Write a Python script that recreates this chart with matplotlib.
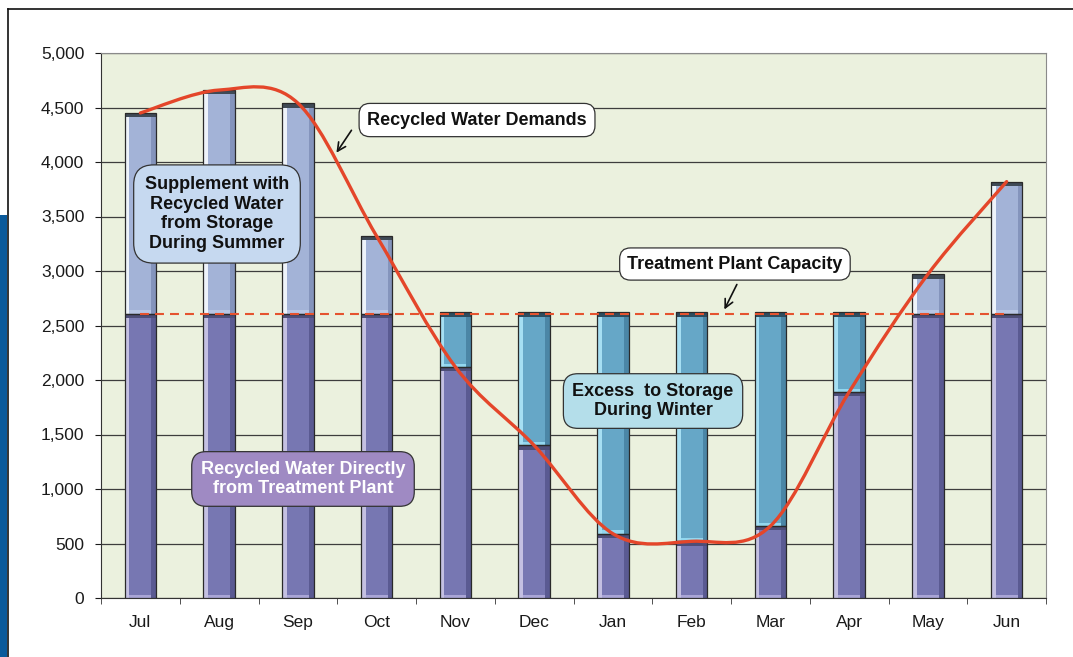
import matplotlib.pyplot as plt
import numpy as np
from matplotlib.path import Path
from matplotlib.patches import PathPatch, Rectangle
from matplotlib.lines import Line2D

months = ["Jul", "Aug", "Sep", "Oct", "Nov", "Dec",
          "Jan", "Feb", "Mar", "Apr", "May", "Jun"]

# water delivered straight from the plant (purple)
direct = [2610, 2610, 2610, 2610, 2120, 1400, 590, 520, 660, 1890, 2610, 2610]
# drawn back from storage in summer (light blue)
from_storage = [1840, 2050, 1930, 710, 0, 0, 0, 0, 0, 0, 360, 1210]
# surplus sent to storage in winter (teal)
to_storage = [0, 0, 0, 0, 500, 1220, 2030, 2100, 1960, 730, 0, 0]

demand = [4450, 4660, 4540, 3320, 2120, 1400, 590, 520, 660, 1890, 2970, 3820]
capacity = 2610

plt.rcParams['font.family'] = ['Liberation Sans', 'DejaVu Sans']

fig = plt.figure(figsize=(10.73, 6.57), dpi=100)
ax = fig.add_axes([101/1073, 59/657, 945/1073, 545/657])
ax.set_facecolor('#EBF1DE')

x = np.arange(len(months))
w = 0.4
s = w * 0.15


def bevel_bar(bottom, height, face, light, dark, topc, botc):
    bottom = np.array(bottom, float)
    height = np.array(height, float)
    m = height > 0
    xs, b, h = x[m], bottom[m], height[m]
    ax.bar(xs, h, w, b, color=face, lw=0, zorder=3)
    ax.bar(xs - w/2 + s/2, h, s, b, color=light, lw=0, zorder=3.1)
    ax.bar(xs + w/2 - s/2, h, s, b, color=dark, lw=0, zorder=3.1)
    ax.bar(xs, np.minimum(h, 30), w - 2*s, b, color=botc, lw=0, zorder=3.2)
    ax.bar(xs, np.minimum(h, 40), w, b + h - np.minimum(h, 40), color=topc,
           lw=0, zorder=3.2)
    ax.bar(xs, h, w, b, fill=False, edgecolor='#2a2a2a', lw=0.9, zorder=3.3)


bevel_bar([0]*12, direct, '#7777B2', '#C4C0E2', '#5A5A92', '#4E4E78', '#A9A5D6')
bevel_bar(direct, from_storage, '#A3B3D7', '#EEF3FA', '#8494BC', '#3F4A56', '#B8C6E4')
bevel_bar(direct, to_storage, '#66A7C7', '#A6DFF3', '#4B86A6', '#2E4C5E', '#93D7EF')

# capacity line
ax.plot(x, [capacity]*len(x), color='#E5532F', lw=1.5, dashes=(4.3, 2.9), zorder=4)

# smoothed demand line (Catmull-Rom as cubic Bezier)
pts = np.column_stack([x, demand]).astype(float)
ext = np.vstack([pts[0], pts, pts[-1]])
verts = [pts[0]]
codes = [Path.MOVETO]
for i in range(len(pts) - 1):
    p0, p1, p2, p3 = ext[i], ext[i+1], ext[i+2], ext[i+3]
    verts += [p1 + (p2 - p0)/6, p2 - (p3 - p1)/6, p2]
    codes += [Path.CURVE4]*3
ax.add_patch(PathPatch(Path(verts, codes), fill=False, edgecolor='#E4462A',
                       lw=2.4, zorder=5, capstyle='round'))

ax.set_xlim(-0.5, 11.5)
ax.set_ylim(0, 5000)
ax.set_yticks(np.arange(0, 5001, 500))
ax.set_yticklabels([f"{v:,}" for v in range(0, 5001, 500)])
ax.yaxis.grid(True, color='#3d3d3d', lw=0.9)
ax.set_axisbelow(True)
ax.set_xticks(x)
ax.set_xticklabels(months)
ax.set_xticks(np.arange(-0.5, 12, 1), minor=True)
ax.tick_params(axis='x', which='major', length=0, pad=12, labelsize=12.5, colors='#1a1a1a')
ax.tick_params(axis='x', which='minor', length=4.5, direction='out', color='#333')
ax.tick_params(axis='y', length=4, pad=8, labelsize=12.5, colors='#1a1a1a')
ax.spines['left'].set_color('#333')
ax.spines['bottom'].set_color('#333')
ax.spines['top'].set_color('#8a8a8a')
ax.spines['right'].set_color('#8a8a8a')

arrow = dict(arrowstyle='->,head_length=0.6,head_width=0.3', color='#111', lw=1.2)
tkw = dict(fontsize=13, fontweight='bold', ha='center', va='center', zorder=8,
           linespacing=1.2)
ax.text(4.275, 4385, "Recycled Water Demands", color='#111',
        bbox=dict(boxstyle='round,pad=0.45,rounding_size=0.6', fc='white',
                  ec='#333', lw=0.9), **tkw)
ax.annotate("", xy=(2.47, 4064), xytext=(2.70, 4312), arrowprops=arrow, zorder=8)
ax.text(7.55, 3064, "Treatment Plant Capacity", color='#111',
        bbox=dict(boxstyle='round,pad=0.42,rounding_size=0.6', fc='white',
                  ec='#333', lw=0.9), **tkw)
ax.annotate("", xy=(7.40, 2624), xytext=(7.59, 2899), arrowprops=arrow, zorder=8)
ax.text(0.973, 3523, "Supplement with\nRecycled Water\nfrom Storage\nDuring Summer",
        color='#111',
        bbox=dict(boxstyle='round,pad=0.62,rounding_size=1.1', fc='#C6D9F0',
                  ec='#333', lw=0.9), **tkw)
ax.text(6.51, 1807, "Excess  to Storage\nDuring Winter", color='#111',
        bbox=dict(boxstyle='round,pad=0.5,rounding_size=0.8', fc='#B4DEEA',
                  ec='#333', lw=0.9), **tkw)
ax.text(2.065, 1092, "Recycled Water Directly\nfrom Treatment Plant", color='white',
        bbox=dict(boxstyle='round,pad=0.5,rounding_size=0.8', fc='#9F8AC3',
                  ec='#333', lw=0.9), **tkw)

# page frame and blue strip
fig.add_artist(Rectangle((0, 0), 7/1073, (657-215)/657, transform=fig.transFigure,
                         color='#0A5A9B', lw=0))
fig.add_artist(Line2D([8/1073, 1], [1 - 9/657]*2, transform=fig.transFigure,
                      color='#111', lw=1.2))
fig.add_artist(Line2D([8/1073]*2, [0, 1 - 9/657], transform=fig.transFigure,
                      color='#111', lw=1.2))

fig.savefig("out.png", dpi=100)
